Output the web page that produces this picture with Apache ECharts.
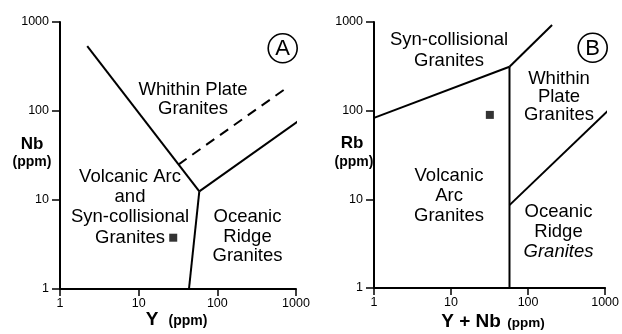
<!DOCTYPE html>
<html><head><meta charset="utf-8">
<script src="https://cdn.jsdelivr.net/npm/echarts@6/dist/echarts.min.js"></script>
<style>html,body{margin:0;padding:0;background:#fff}#c{width:622px;height:334px}</style>
</head><body><div id="c"></div>
<script>
// Tick labels
const tickValues = [1, 10, 100, 1000];

// Panel A: Nb vs Y discrimination boundaries
const A_vagWpg = [[2.22, 537], [59, 12.5]];        // VAG+syn-COLG / WPG
const A_vagOrg = [[59, 12.5], [43.6, 1]];          // VAG / ORG
const A_wpgOrg = [[59, 12.5], [1050, 76]];         // WPG / ORG
const A_dashed = [[32, 25], [822, 191]];           // dashed boundary
const A_sample = [[27.5, 3.77]];

// Panel B: Rb vs Y+Nb discrimination boundaries
const B_synVag = [[1, 82.8], [57.4, 313]];         // syn-COLG / VAG
const B_synWpg = [[57.4, 313], [205, 925]];        // syn-COLG / WPG
const B_vertical = [[57.4, 313], [57.4, 1]];       // VAG / WPG+ORG
const B_wpgOrg = [[57.4, 8.6], [1185, 107]];       // WPG / ORG
const B_sample = [[31.9, 89.6]];

const FONT = '"Liberation Sans", Arial, Helvetica, sans-serif';
const REG = '18.5px ' + FONT;

function fmt(v) { const r = Math.round(v); return tickValues.indexOf(r) >= 0 ? String(r) : ''; }
function xAx(gi) {
  return {
    type: 'log', logBase: 10, min: 1, max: 1000, gridIndex: gi,
    axisLine: { show: true, lineStyle: { color: '#000', width: 2 } },
    axisTick: { show: true, length: 7, lineStyle: { color: '#000', width: 1.5 } },
    axisLabel: { color: '#000', fontSize: 12.5, fontFamily: FONT, margin: 8, formatter: fmt },
    splitLine: { show: false }, minorTick: { show: false }
  };
}
function yAx(gi) {
  return {
    type: 'log', logBase: 10, min: 1, max: 1000, gridIndex: gi,
    axisLine: { show: true, lineStyle: { color: '#000', width: 2 } },
    axisTick: { show: true, length: 8, lineStyle: { color: '#000', width: 1.5 } },
    axisLabel: { color: '#000', fontSize: 12.5, fontFamily: FONT, margin: 11, formatter: fmt },
    splitLine: { show: false }, minorTick: { show: false }
  };
}
function line(data, gi, dashed) {
  return {
    type: 'line', data: data, xAxisIndex: gi, yAxisIndex: gi,
    symbol: 'none', clip: false, silent: true, animation: false,
    lineStyle: { color: '#000', width: 2, type: dashed ? [10, 7] : 'solid' }
  };
}
function pt(data, gi) {
  return {
    type: 'scatter', data: data, xAxisIndex: gi, yAxisIndex: gi,
    symbol: 'rect', symbolSize: 8, itemStyle: { color: '#000' }, animation: false
  };
}
function t(x, y, s, font) {
  return { type: 'text', x: x, y: y,
    style: { text: s, fill: '#000', font: font, align: 'center', verticalAlign: 'middle' } };
}
function multi(x, y, lines, lh, font) {
  return lines.map((s, i) => t(x, y + i * lh, s, font || REG));
}

const chart = echarts.init(document.getElementById('c'), null, { renderer: 'canvas' });
chart.setOption({
  animation: false,
  grid: [
    { left: 60, top: 22, width: 236, height: 267 },
    { left: 374, top: 22, width: 232, height: 266 }
  ],
  xAxis: [xAx(0), xAx(1)],
  yAxis: [yAx(0), yAx(1)],
  series: [
    line(A_vagWpg, 0), line(A_vagOrg, 0), line(A_wpgOrg, 0), line(A_dashed, 0, true), pt(A_sample, 0),
    line(B_synVag, 1), line(B_synWpg, 1), line(B_vertical, 1), line(B_wpgOrg, 1), pt(B_sample, 1)
  ],
  graphic: [].concat(
    // Panel A region labels
    multi(193, 89.5, ['Whithin Plate', 'Granites'], 19.8),
    multi(130, 177, ['Volcanic Arc', 'and', 'Syn-collisional', 'Granites'], 20.2),
    multi(247.5, 217, ['Oceanic', 'Ridge', 'Granites'], 19.5),
    // Panel B region labels
    multi(449, 40, ['Syn-collisional', 'Granites'], 21),
    multi(559, 79, ['Whithin', 'Plate', 'Granites'], 18),
    multi(449, 175.5, ['Volcanic', 'Arc', 'Granites'], 20),
    multi(558.5, 212, ['Oceanic', 'Ridge'], 20),
    [t(558.5, 252, 'Granites', 'italic ' + REG)],
    // Circled panel letters
    [
      { type: 'circle', shape: { cx: 282.7, cy: 48.3, r: 14.5 }, style: { fill: 'none', stroke: '#000', lineWidth: 1.6 } },
      t(282.7, 49.3, 'A', '22px ' + FONT),
      { type: 'circle', shape: { cx: 592.7, cy: 47.7, r: 14.5 }, style: { fill: 'none', stroke: '#000', lineWidth: 1.6 } },
      t(592.7, 48.7, 'B', '22px ' + FONT)
    ],
    // Axis titles
    [
      t(32, 144, 'Nb', 'bold 17px ' + FONT),
      t(32, 162, '(ppm)', 'bold 14px ' + FONT),
      t(352, 143, 'Rb', 'bold 17px ' + FONT),
      t(354, 162, '(ppm)', 'bold 14px ' + FONT),
      t(152, 320, 'Y', 'bold 19px ' + FONT),
      t(188, 321, '(ppm)', 'bold 14px ' + FONT),
      t(471, 322, 'Y + Nb', 'bold 19px ' + FONT),
      t(526, 323, '(ppm)', 'bold 13.5px ' + FONT)
    ]
  )
});
</script></body></html>
